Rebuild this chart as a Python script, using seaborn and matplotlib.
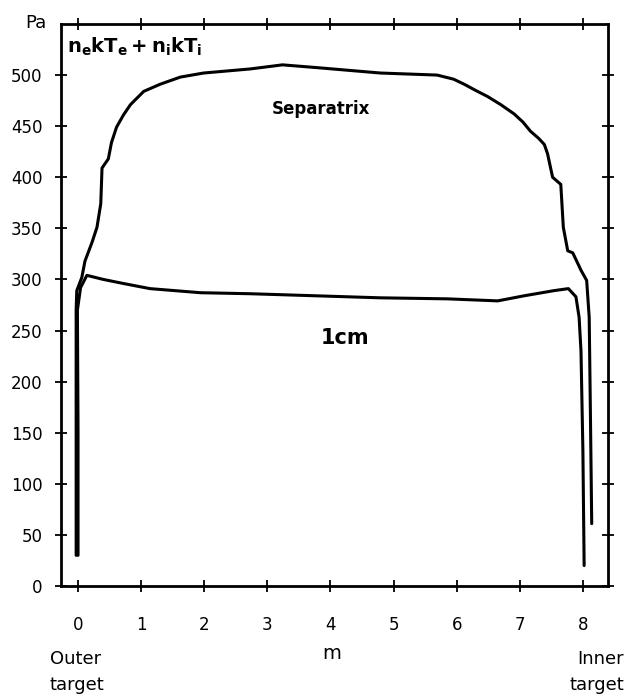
import pandas as pd
import matplotlib
matplotlib.use("Agg")
import matplotlib.pyplot as plt
import seaborn as sns

# pressure along the field line (m, Pa)
sep_x = [-0.03, -0.03, -0.03, -0.02, 0.06, 0.11, 0.22, 0.30, 0.36, 0.38, 0.48, 0.53,
         0.61, 0.72, 0.83, 1.04, 1.30, 1.62, 1.99, 2.73, 3.24, 3.84, 4.79, 5.69, 5.95,
         6.12, 6.30, 6.49, 6.70, 6.91, 7.05, 7.17, 7.30, 7.39, 7.44, 7.52, 7.65, 7.69,
         7.76, 7.84, 7.97, 8.06, 8.10, 8.12, 8.14]
sep_y = [30, 150, 270, 289, 302, 318, 336, 351, 374, 409, 418, 434,
         449, 461, 471, 484, 491, 498, 502, 506, 510, 507, 502, 500, 496,
         491, 485, 479, 471, 462, 454, 445, 438, 432, 423, 400, 393, 351,
         328, 326, 309, 299, 263, 165, 61]

cm_x = [0.0, 0.0, -0.01, 0.04, 0.14, 0.40, 0.72, 1.14, 1.94, 2.73, 4.79, 5.85,
        6.65, 7.07, 7.54, 7.77, 7.89, 7.94, 7.97, 8.00, 8.02]
cm_y = [30, 150, 270, 292, 304, 300, 296, 291, 287, 286, 282, 281,
        279, 284, 289, 291, 283, 263, 230, 133, 20]

x_ticks = [0, 1, 2, 3, 4, 5, 6, 7, 8]
y_ticks = [0, 50, 100, 150, 200, 250, 300, 350, 400, 450, 500]

sep = pd.DataFrame({"s": sep_x, "p": sep_y})
onecm = pd.DataFrame({"s": cm_x, "p": cm_y})

sns.set_style("ticks")
plt.rcParams["font.family"] = ["DejaVu Sans"]
plt.rcParams["text.color"] = "black"

fig = plt.figure(figsize=(6.25, 6.97), dpi=100)
ax = fig.add_axes([0.0976, 0.1593, 0.8754, 0.8063])

sns.lineplot(data=sep, x="s", y="p", sort=False, estimator=None,
             color="black", linewidth=2.2, ax=ax)
sns.lineplot(data=onecm, x="s", y="p", sort=False, estimator=None,
             color="black", linewidth=2.2, ax=ax)

ax.set_xlim(-0.27, 8.4)
ax.set_ylim(0, 550)
ax.set_xticks(x_ticks)
ax.set_yticks(y_ticks)
ax.set_xlabel("")
ax.set_ylabel("")
for s in ax.spines.values():
    s.set_visible(True)
    s.set_linewidth(2)
    s.set_color("black")
ax.tick_params(direction="inout", length=9, width=1.3, labelsize=12,
               top=True, right=True, colors="black")
ax.tick_params(axis="x", pad=17)
ax.tick_params(axis="y", pad=9)

# labels in the plot
ax.text(-0.17, 522, r"$\mathregular{n_ekT_e + n_ikT_i}$", fontsize=14, fontweight="bold",
        ha="left", va="baseline")
ax.text(3.85, 467, "Separatrix", fontsize=12, fontweight="bold", ha="center", va="center")
ax.text(4.23, 243, "1cm", fontsize=15, fontweight="bold", ha="center", va="center")

fig.text(0.075, 0.967, "Pa", fontsize=13, ha="right", va="center")
fig.text(0.531, 0.063, "m", fontsize=14, ha="center", va="center")
fig.text(0.08, 0.036, "Outer\ntarget", fontsize=13, ha="left", va="center", linespacing=1.6)
fig.text(0.998, 0.036, "Inner\ntarget", fontsize=13, ha="right", va="center", linespacing=1.6)

fig.savefig("out.png", dpi=100)
